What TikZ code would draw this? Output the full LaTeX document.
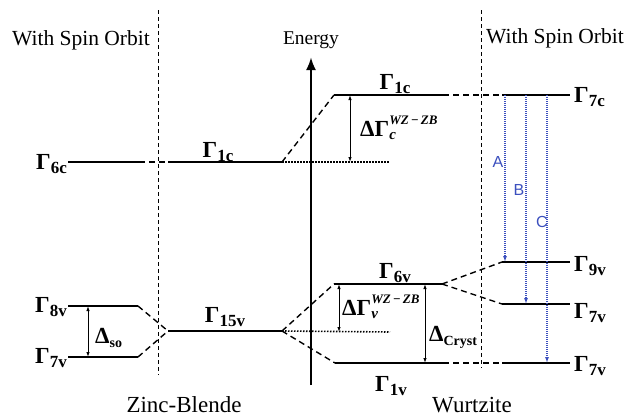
\documentclass[tikz,border=0pt]{standalone}
\usepackage{fontspec}
\setmainfont{Liberation Serif}
\newfontfamily\abcfont{Liberation Sans}
\usetikzlibrary{arrows.meta,calc}
\definecolor{TransBlue}{RGB}{60,80,190}
\newcommand{\glev}[1]{\textbf{Γ\raisebox{-0.2em}{\fontsize{17}{17}\selectfont #1}}}
\newcommand{\dsplit}[1]{\textbf{ΔΓ}\rlap{\raisebox{0.5em}{\fontsize{13}{13}\selectfont\bfseries\itshape WZ\,−\,ZB}}\raisebox{-0.15em}{\fontsize{15}{15}\selectfont\bfseries\itshape #1}}
\newcommand{\dgap}[1]{\textbf{Δ\raisebox{-0.2em}{\fontsize{14}{14}\selectfont #1}}}

\begin{document}
\begin{tikzpicture}[x=1pt,y=-1pt,>=Latex,
  band/.style={line width=2.4pt},
  conn/.style={line width=1.4pt,dash pattern=on 6pt off 4pt},
  sect/.style={line width=0.9pt,dash pattern=on 4pt off 3pt},
  refl/.style={line width=1.6pt,dash pattern=on 1.5pt off 1.5pt},
  gapar/.style={<->,line width=0.9pt,>={Latex[length=5pt,width=3.5pt]}},
  trans/.style={->,TransBlue,line width=1.1pt,dash pattern=on 1pt off 1pt,
    >={Latex[length=6pt,width=4pt]}},
  head/.style={font=\fontsize{21.5}{26}\selectfont,inner sep=0pt},
  foot/.style={font=\fontsize{23}{26}\selectfont,inner sep=0pt,anchor=base},
  glab/.style={font=\fontsize{23}{26}\selectfont,inner sep=0pt}]
  \useasboundingbox (0,0) rectangle (625,416);

  % section headers and dividers
  \node[head] (wsoL) at (81,40) {With Spin Orbit};
  \node[head] (wsoR) at (555,38) {With Spin Orbit};
  \node[foot] (zb) at (184,412) {Zinc-Blende};
  \node[foot] (wz) at (472,412) {Wurtzite};
  \draw[sect] (158,10) coordinate (secA) -- (secA |- 0,375);
  \draw[sect] (481,10) coordinate (secB) -- (secB |- 0,368);

  % energy axis
  \node[font=\fontsize{19.5}{24}\selectfont,inner sep=0pt] (en) at (311,40) {Energy};
  \coordinate (eB) at (311,385);
  \coordinate (eT) at (311,57);
  \draw[->,line width=2.6pt,>={Latex[length=13pt,width=10pt]}] (eB) -- (eT);

  % level end points
  \coordinate (g6cL) at (68,162);  \coordinate (g6cR) at (139,162);
  \coordinate (g8vL) at (68,306);  \coordinate (g8vR) at (138,306);
  \coordinate (g7vL) at (68,357);  \coordinate (g7vR) at (138,357);
  \coordinate (z1cL) at (168,162); \coordinate (z1cR) at (282,162);
  \coordinate (z15L) at (168,331); \coordinate (z15R) at (282,331);
  \coordinate (w1cL) at (334,95);  \coordinate (w1cR) at (443,95);
  \coordinate (w6vL) at (334,284); \coordinate (w6vR) at (442,284);
  \coordinate (w1vL) at (335,363); \coordinate (w1vR) at (443,363);
  \coordinate (s7cL) at (502,95);  \coordinate (s7cR) at (570,95);
  \coordinate (s9vL) at (502,262); \coordinate (s9vR) at (570,262);
  \coordinate (s7aL) at (502,304); \coordinate (s7aR) at (570,304);
  \coordinate (s7bL) at (502,363); \coordinate (s7bR) at (570,363);
  \coordinate (zcE) at (390,162);  \coordinate (zvE) at (390,332);

  \foreach \l in {g6c,g8v,g7v,z1c,z15,w1c,w6v,w1v,s7c,s9v,s7a,s7b}
    \draw[band] (\l L) -- (\l R);

  % correlations between levels
  \draw[conn] (g6cR) -- (z1cL);
  \draw[conn] (g8vR) -- (z15L) (g7vR) -- (z15L);
  \draw[conn] (z1cR) -- (w1cL);
  \draw[conn] (z15R) -- (w6vL) (z15R) -- (w1vL);
  \draw[conn] (w1cR) -- (s7cL);
  \draw[conn] (w6vR) -- (s9vL) (w6vR) -- (s7aL);
  \draw[conn] (w1vR) -- (s7bL);
  \draw[refl] (z1cR) -- (zcE);
  \draw[refl] (z15R) -- (zvE);

  % level labels
  \node[glab,anchor=base east] (l6c) at ([shift={(-1,7)}]g6cL) {\glev{6c}};
  \node[glab,anchor=base east] (l8v) at ([shift={(-1,6)}]g8vL) {\glev{8v}};
  \node[glab,anchor=base east] (l7v) at ([shift={(-1,6)}]g7vL) {\glev{7v}};
  \node[glab,anchor=base] (l1cz) at (218,157) {\glev{1c}};
  \node[glab,anchor=base] (l15v) at (225,322) {\glev{15v}};
  \node[glab,anchor=base] (l1cw) at (395,89) {\glev{1c}};
  \node[glab,anchor=base] (l6v) at (395,278) {\glev{6v}};
  \node[glab,anchor=base] (l1v) at (391,391) {\glev{1v}};
  \node[glab,anchor=base west] (l7c) at ([shift={(4,7)}]s7cR) {\glev{7c}};
  \node[glab,anchor=base west] (l9v) at ([shift={(4,9)}]s9vR) {\glev{9v}};
  \node[glab,anchor=base west] (l7a) at ([shift={(4,14)}]s7aR) {\glev{7v}};
  \node[glab,anchor=base west] (l7b) at ([shift={(4,8)}]s7bR) {\glev{7v}};

  % splittings
  \draw[gapar] ([xshift=20pt]g8vL) coordinate (so) -- (so |- g7vL);
  \node[glab,anchor=base west] (dso) at (95,343) {\dgap{so}};
  \draw[gapar] ([xshift=16pt]w1cL) coordinate (dc) -- (dc |- zcE);
  \node[glab,anchor=base west] (ddc) at (360,136) {\dsplit{c}};
  \draw[gapar] ([xshift=5pt]w6vL) coordinate (dv) -- (dv |- zvE);
  \node[glab,anchor=base west] (ddv) at (342,315) {\dsplit{v}};
  \draw[gapar] ([xshift=91pt]w6vL) coordinate (dk) -- (dk |- w1vL);
  \node[glab,anchor=base west] (dcr) at (429,341) {\dgap{Cryst}};

  % optical transitions
  \draw[trans] ([xshift=3pt]s7cL) coordinate (ta) -- (ta |- s9vL);
  \draw[trans] ([xshift=24pt]s7cL) coordinate (tb) -- (tb |- s7aL);
  \draw[trans] ([xshift=45pt]s7cL) coordinate (tc) -- (tc |- s7bL);
  \node[TransBlue,font=\abcfont\fontsize{16}{18}\selectfont,inner sep=0pt] (A) at (498,162) {A};
  \node[TransBlue,font=\abcfont\fontsize{16}{18}\selectfont,inner sep=0pt] (B) at (519,190) {B};
  \node[TransBlue,font=\abcfont\fontsize{16}{18}\selectfont,inner sep=0pt] (C) at (542,222) {C};
\end{tikzpicture}
\end{document}
